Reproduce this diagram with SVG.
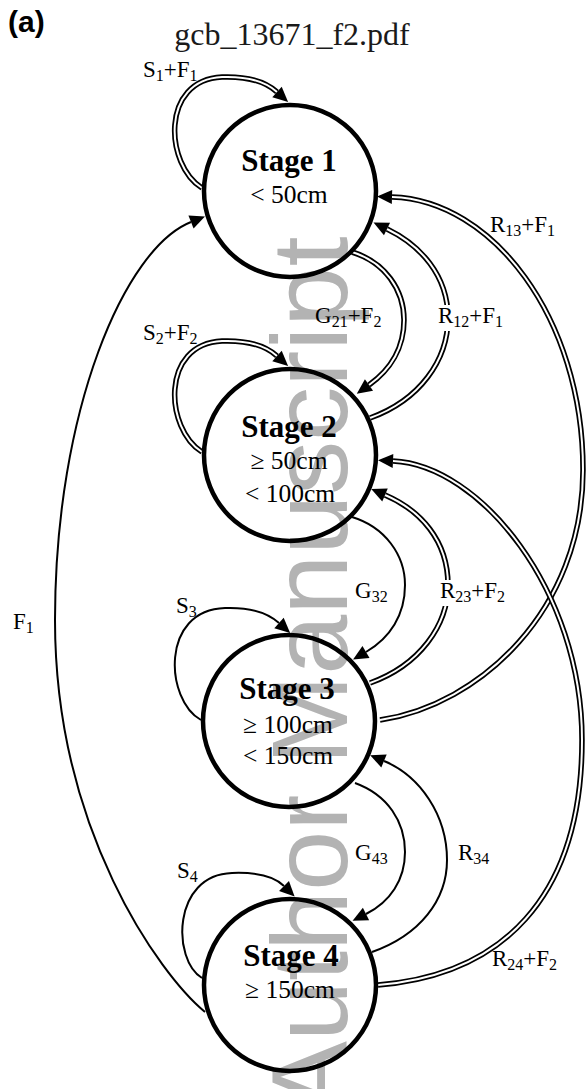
<svg xmlns="http://www.w3.org/2000/svg" width="587" height="1089" viewBox="0 0 587 1089">
<style>
.node{fill:none;stroke:#000;stroke-width:4.5}
.st{font-family:"Liberation Serif","Times New Roman",serif;font-size:31px;font-weight:bold;fill:#000;text-anchor:middle}
.nt{font-family:"Liberation Serif","Times New Roman",serif;font-size:25.5px;fill:#000;text-anchor:middle}
.lbl{font-family:"Liberation Serif","Times New Roman",serif;font-size:23px;fill:#000}
.sub{font-size:16px}
.one{fill:none;stroke:#000;stroke-width:2}
.dbo{fill:none;stroke:#000;stroke-width:5.5}
.dbi{fill:none;stroke:#fff;stroke-width:2}
.wm{font-family:"Liberation Sans",Arial,sans-serif;font-size:108px;fill:#b3b3b3}
</style>
<defs>
<marker id="ah" markerUnits="userSpaceOnUse" markerWidth="16" markerHeight="14" refX="0" refY="7" orient="auto" overflow="visible">
<path d="M0,0 L15,7 L0,14 z" fill="#000"/>
</marker>
</defs>
<rect width="587" height="1089" fill="#fff"/>
<text class="wm" transform="translate(347,1113) rotate(-90)">Author Manuscript</text>
<text x="8" y="32" font-family="Liberation Sans,Arial,sans-serif" font-size="30" font-weight="bold">(a)</text>
<text x="292" y="45" font-family="Liberation Serif,serif" font-size="32" fill="#1a1a1a" text-anchor="middle">gcb_13671_f2.pdf</text>
<g id="connectors">
<path class="one" d="M205,1012 C160,975 55,830 55,620 C55,410 125,248 191,222" marker-end="url(#ah)"/>
<path class="dbo" d="M202,188 C165,165 160,80 222,77 C250,76 266,82 277,92"/>
<path class="dbi" d="M202,188 C165,165 160,80 222,77 C250,76 266,82 277,92" marker-end="url(#ah)"/>
<path class="dbo" d="M202,452 C165,429 160,344 222,341 C250,340 266,346 277,356"/>
<path class="dbi" d="M202,452 C165,429 160,344 222,341 C250,340 266,346 277,356" marker-end="url(#ah)"/>
<path class="one" d="M201,720 C165,700 160,610 225,608 C252,607 269,614 279,623" marker-end="url(#ah)"/>
<path class="one" d="M202,978 C172,960 172,875 232,873 C258,872 275,877 284,886" marker-end="url(#ah)"/>
<path class="dbo" d="M352,252 C385,262 404,290 404,320 C404,348 390,370 369,385"/>
<path class="dbi" d="M352,252 C385,262 404,290 404,320 C404,348 390,370 369,385" marker-end="url(#ah)"/>
<path class="dbo" d="M370,418 C420,400 448,360 448,318 C448,275 420,245 387,229"/>
<path class="dbi" d="M370,418 C420,400 448,360 448,318 C448,275 420,245 387,229" marker-end="url(#ah)"/>
<path class="dbo" d="M380,720 C480,705 583,610 583,470 C583,317 492,200 392,197"/>
<path class="dbi" d="M380,720 C480,705 583,610 583,470 C583,317 492,200 392,197" marker-end="url(#ah)"/>
<path class="one" d="M352,517 C385,527 405,555 405,585 C405,615 390,638 366,652" marker-end="url(#ah)"/>
<path class="dbo" d="M370,683 C420,665 448,625 448,585 C448,540 420,510 385,495"/>
<path class="dbi" d="M370,683 C420,665 448,625 448,585 C448,540 420,510 385,495" marker-end="url(#ah)"/>
<path class="one" d="M355,783 C388,795 405,822 405,852 C405,880 390,902 366,914" marker-end="url(#ah)"/>
<path class="one" d="M372,952 C420,935 447,900 447,860 C447,815 420,776 384,761" marker-end="url(#ah)"/>
<path class="dbo" d="M378,985 C500,975 582,900 582,740 C582,590 480,465 393,461"/>
<path class="dbi" d="M378,985 C500,975 582,900 582,740 C582,590 480,465 393,461" marker-end="url(#ah)"/>
</g>
<g id="labels">
<text class="lbl" x="143" y="77">S<tspan class="sub" dy="4">1</tspan><tspan dy="-4">+F</tspan><tspan class="sub" dy="4">1</tspan></text>
<text class="lbl" x="143" y="340">S<tspan class="sub" dy="4">2</tspan><tspan dy="-4">+F</tspan><tspan class="sub" dy="4">2</tspan></text>
<text class="lbl" x="176" y="613">S<tspan class="sub" dy="4">3</tspan></text>
<text class="lbl" x="177" y="878">S<tspan class="sub" dy="4">4</tspan></text>
<text class="lbl" x="13" y="629">F<tspan class="sub" dy="4">1</tspan></text>
<text class="lbl" x="315" y="323">G<tspan class="sub" dy="4">21</tspan><tspan dy="-4">+F</tspan><tspan class="sub" dy="4">2</tspan></text>
<rect x="436" y="305" width="76" height="26" fill="#fff"/>
<text class="lbl" x="438" y="323">R<tspan class="sub" dy="4">12</tspan><tspan dy="-4">+F</tspan><tspan class="sub" dy="4">1</tspan></text>
<text class="lbl" x="490" y="232">R<tspan class="sub" dy="4">13</tspan><tspan dy="-4">+F</tspan><tspan class="sub" dy="4">1</tspan></text>
<text class="lbl" x="355" y="598">G<tspan class="sub" dy="4">32</tspan></text>
<rect x="438" y="580" width="76" height="26" fill="#fff"/>
<text class="lbl" x="440" y="598">R<tspan class="sub" dy="4">23</tspan><tspan dy="-4">+F</tspan><tspan class="sub" dy="4">2</tspan></text>
<text class="lbl" x="355" y="860">G<tspan class="sub" dy="4">43</tspan></text>
<text class="lbl" x="458" y="860">R<tspan class="sub" dy="4">34</tspan></text>
<text class="lbl" x="492" y="966">R<tspan class="sub" dy="4">24</tspan><tspan dy="-4">+F</tspan><tspan class="sub" dy="4">2</tspan></text>
</g>
<g id="stage1">
<circle class="node" cx="290" cy="191" r="86"/>
<text class="st" x="289" y="171">Stage 1</text>
<text class="nt" x="289" y="203">&lt; 50cm</text>
</g>
<g id="stage2">
<circle class="node" cx="290" cy="455" r="86"/>
<text class="st" x="289" y="437">Stage 2</text>
<text class="nt" x="289" y="469">≥ 50cm</text>
<text class="nt" x="290" y="502">&lt; 100cm</text>
</g>
<g id="stage3">
<circle class="node" cx="289" cy="721" r="86"/>
<text class="st" x="287" y="699">Stage 3</text>
<text class="nt" x="288" y="733">≥ 100cm</text>
<text class="nt" x="288" y="764">&lt; 150cm</text>
</g>
<g id="stage4">
<circle class="node" cx="290" cy="985" r="86"/>
<text class="st" x="291" y="966">Stage 4</text>
<text class="nt" x="290" y="998">≥ 150cm</text>
</g>
</svg>
